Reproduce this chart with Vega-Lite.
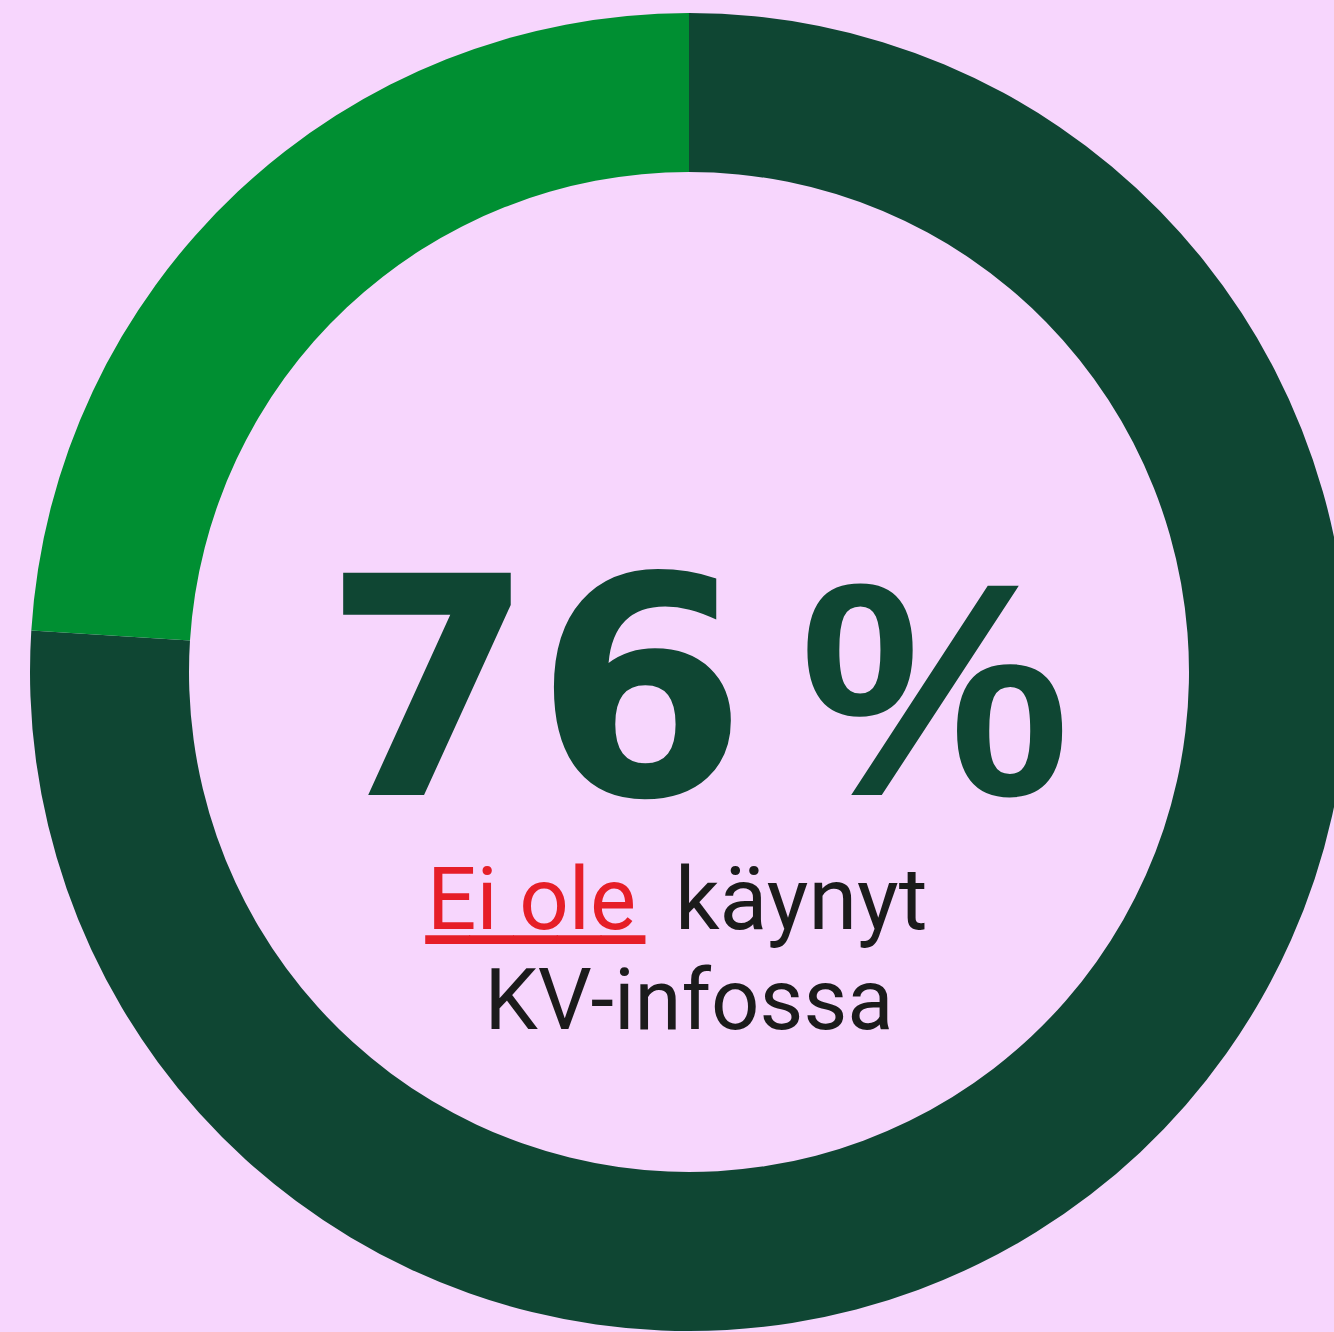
{
  "$schema": "https://vega.github.io/schema/vega-lite/v6.json",
  "width": 1334,
  "height": 1332,
  "autosize": {"type": "fit", "contains": "padding"},
  "padding": {"left": 44, "right": 0, "top": 12, "bottom": 0},
  "background": "#F7D6FD",
  "config": {"view": {"stroke": null}},
  "datasets": {
    "shares": [
      {"category": "Ei ole käynyt KV-infossa", "value": 76, "order": 1},
      {"category": "On käynyt KV-infossa", "value": 24, "order": 2}
    ],
    "labels": [
      {"num": "76", "pct": "%", "red": "Ei ole", "black": "käynyt", "line2": "KV-infossa", "under": "▁▁▁▁▁"}
    ]
  },
  "layer": [
    {
      "data": {"name": "shares"},
      "mark": {"type": "arc", "radius": 659, "radius2": 500},
      "encoding": {
        "theta": {"field": "value", "type": "quantitative", "stack": true},
        "order": {"field": "order", "type": "quantitative"},
        "color": {
          "field": "category",
          "type": "nominal",
          "scale": {"domain": ["Ei ole käynyt KV-infossa", "On käynyt KV-infossa"], "range": ["#0F4633", "#008F32"]},
          "legend": null
        }
      }
    },
    {
      "data": {"name": "labels"},
      "mark": {"type": "text", "font": "DejaVu Sans", "fontWeight": "bold", "fontSize": 305, "align": "center", "baseline": "alphabetic", "dx": -154, "dy": 123, "color": "#0F4633"},
      "encoding": {"text": {"field": "num"}}
    },
    {
      "data": {"name": "labels"},
      "mark": {"type": "text", "font": "Liberation Sans", "fontWeight": "bold", "fontSize": 304, "align": "center", "baseline": "alphabetic", "dx": 246, "dy": 123, "color": "#0F4633"},
      "encoding": {"text": {"field": "pct"}}
    },
    {
      "data": {"name": "labels"},
      "mark": {"type": "text", "font": "Roboto", "fontSize": 87, "align": "left", "baseline": "alphabetic", "dx": -262, "dy": 257, "color": "#E61E28"},
      "encoding": {"text": {"field": "red"}}
    },
    {
      "data": {"name": "labels"},
      "mark": {"type": "text", "font": "Roboto", "fontSize": 88, "align": "left", "baseline": "alphabetic", "dx": -14, "dy": 257, "color": "#1B1B1B"},
      "encoding": {"text": {"field": "black"}}
    },
    {
      "data": {"name": "labels"},
      "mark": {"type": "text", "font": "Roboto", "fontSize": 85, "align": "center", "baseline": "alphabetic", "dx": 0, "dy": 357, "color": "#1B1B1B"},
      "encoding": {"text": {"field": "line2"}}
    },
    {
      "data": {"name": "labels"},
      "mark": {"type": "text", "font": "DejaVu Sans", "fontSize": 57, "align": "left", "baseline": "alphabetic", "dx": -263, "dy": 257.5, "color": "#E61E28"},
      "encoding": {"text": {"field": "under"}}
    }
  ]
}
